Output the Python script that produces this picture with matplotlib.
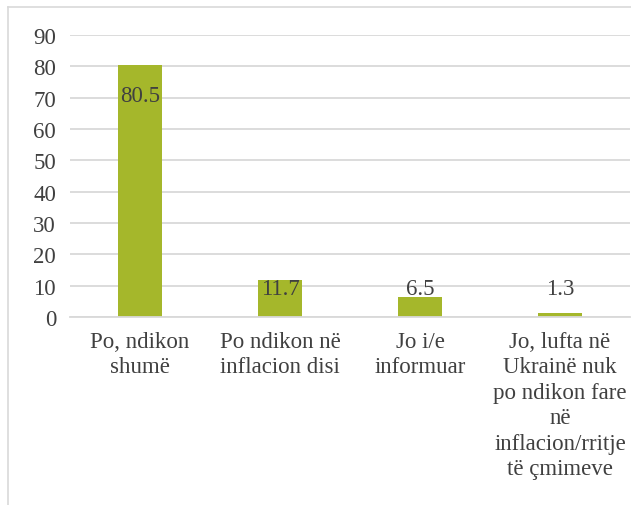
import matplotlib.pyplot as plt
from matplotlib.lines import Line2D

categories = [
    'Po, ndikon\nshumë',
    'Po ndikon në\ninflacion disi',
    'Jo i/e\ninformuar',
    'Jo, lufta në\nUkrainë nuk\npo ndikon fare\nnë\ninflacion/rritje\ntë çmimeve',
]
values = [80.5, 11.7, 6.5, 1.3]
yticks = [0, 10, 20, 30, 40, 50, 60, 70, 80, 90]

bar_color = '#A5B72B'
text_color = '#404040'
grid_color = '#D9D9D9'

plt.rcParams['font.family'] = 'serif'
plt.rcParams['font.serif'] = ['Liberation Serif']

fig = plt.figure(figsize=(6.31, 5.06), dpi=100)
ax = fig.add_axes([70 / 631, 1 - 318 / 506, 560 / 631, 282 / 506])

x = range(len(categories))
ax.bar(x, values, width=0.314, color=bar_color, zorder=2)

# value labels sit inside the top of the bar, or just above the axis for short bars
for i, v in enumerate(values):
    ax.text(i, max(v - 9.8, 9.0), f'{v:.1f}', ha='center', va='center',
            fontsize=16.5, color=text_color, zorder=3)

ax.set_xlim(-0.5, 3.5)
ax.set_ylim(0, 90)
ax.set_yticks(yticks)
ax.set_yticklabels([str(t) for t in yticks])
ax.set_xticks(list(x))
ax.set_xticklabels(categories, linespacing=1.28)
for lbl in ax.get_xticklabels() + ax.get_yticklabels():
    lbl.set_fontsize(16.5)
    lbl.set_color(text_color)
ax.tick_params(axis='both', length=0)
ax.tick_params(axis='y', pad=10)
ax.tick_params(axis='x', pad=10)

ax.yaxis.grid(True, color=grid_color, linewidth=1.3, zorder=0)
ax.set_axisbelow(True)
for side in ['top', 'right', 'left']:
    ax.spines[side].set_visible(False)
ax.spines['bottom'].set_color(grid_color)
ax.spines['bottom'].set_linewidth(1.3)

# chart frame
fig.add_artist(Line2D([8 / 631, 8 / 631], [0, 1 - 8 / 506], color=grid_color, linewidth=1.2))
fig.add_artist(Line2D([8 / 631, 1], [1 - 8 / 506, 1 - 8 / 506], color=grid_color, linewidth=1.2))

fig.savefig('out.png', dpi=100)
